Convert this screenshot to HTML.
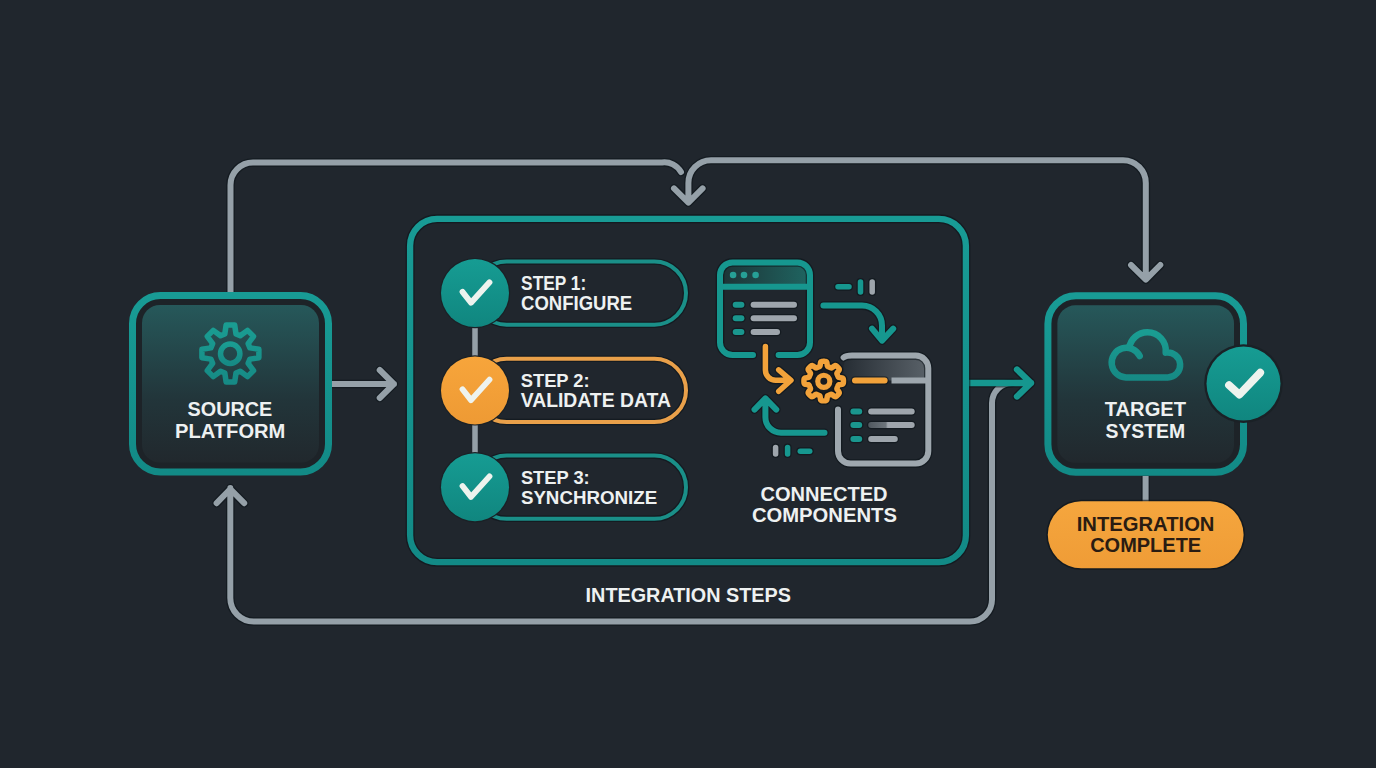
<!DOCTYPE html>
<html><head><meta charset="utf-8"><title>Integration Flow</title>
<style>html,body{margin:0;padding:0;background:#20262d;width:1376px;height:768px;overflow:hidden;font-family:"Liberation Sans",sans-serif}svg{display:block}</style>
</head><body>
<svg width="1376" height="768" viewBox="0 0 1376 768" font-family="Liberation Sans, sans-serif" font-weight="700"><defs>
<linearGradient id="boxfill" x1="0" y1="0" x2="0" y2="1">
<stop offset="0" stop-color="#26585a"/><stop offset="0.6" stop-color="#22353a"/><stop offset="1" stop-color="#21282d"/></linearGradient>
<linearGradient id="boxborder" x1="0" y1="0" x2="0" y2="1">
<stop offset="0" stop-color="#189b95"/><stop offset="1" stop-color="#128a86"/></linearGradient>
<linearGradient id="tealcirc" x1="0" y1="0" x2="0" y2="1">
<stop offset="0" stop-color="#169c93"/><stop offset="1" stop-color="#10867f"/></linearGradient>
<linearGradient id="orcirc" x1="0" y1="0" x2="0" y2="1">
<stop offset="0" stop-color="#f7a53b"/><stop offset="1" stop-color="#ee9a34"/></linearGradient>
<linearGradient id="pill" x1="0" y1="0" x2="0" y2="1">
<stop offset="0" stop-color="#f5a63e"/><stop offset="1" stop-color="#ef9c36"/></linearGradient>
<linearGradient id="hdr1" x1="0" y1="0" x2="1" y2="0">
<stop offset="0" stop-color="#1d3336"/><stop offset="1" stop-color="#1f6561"/></linearGradient>
<linearGradient id="hdr2" x1="0" y1="0" x2="1" y2="0">
<stop offset="0" stop-color="#262d34"/><stop offset="1" stop-color="#5a6269"/></linearGradient>
<linearGradient id="geargrad" x1="0" y1="0" x2="0" y2="1">
<stop offset="0" stop-color="#1a9d92"/><stop offset="1" stop-color="#168a85"/></linearGradient>
<linearGradient id="rowgrad" gradientUnits="userSpaceOnUse" x1="868" y1="0" x2="915" y2="0">
<stop offset="0" stop-color="#4f575e"/><stop offset="0.38" stop-color="#6d757c"/><stop offset="0.42" stop-color="#9ea5ac"/><stop offset="1" stop-color="#9ea5ac"/></linearGradient>
</defs>
<rect width="1376" height="768" fill="#20262d"/>
<path d="M230.5,292 V185 A22.5,22.5 0 0 1 253,162.5 H662 A19,19 0 0 1 681,172" fill="none" stroke="#0b1318" stroke-opacity="0.55" stroke-width="8.6" stroke-linecap="round" stroke-linejoin="round"/>
<path d="M230.5,292 V185 A22.5,22.5 0 0 1 253,162.5 H662 A19,19 0 0 1 681,172" fill="none" stroke="#95a0a8" stroke-width="6" stroke-linecap="round" stroke-linejoin="round" />
<path d="M1145.8,279 V183 A22.7,22.7 0 0 0 1123.1,160.3 H711 A22.6,22.6 0 0 0 688.4,182.9 V202 M674,188.4 L688.4,202.6 L702.6,188.4 M1131,265 L1145.8,279.6 L1160.3,265" fill="none" stroke="#0b1318" stroke-opacity="0.55" stroke-width="8.6" stroke-linecap="round" stroke-linejoin="round"/>
<path d="M1145.8,279 V183 A22.7,22.7 0 0 0 1123.1,160.3 H711 A22.6,22.6 0 0 0 688.4,182.9 V202 M674,188.4 L688.4,202.6 L702.6,188.4 M1131,265 L1145.8,279.6 L1160.3,265" fill="none" stroke="#95a0a8" stroke-width="6" stroke-linecap="round" stroke-linejoin="round" />
<path d="M230.3,488 V598 A23.5,23.5 0 0 0 253.8,621.5 H970 A22,22 0 0 0 992,599.5 V403 A20,20 0 0 1 1012,383 M216.6,503.2 L230.3,489 L244.2,503.2" fill="none" stroke="#0b1318" stroke-opacity="0.55" stroke-width="8.6" stroke-linecap="round" stroke-linejoin="round"/>
<path d="M230.3,488 V598 A23.5,23.5 0 0 0 253.8,621.5 H970 A22,22 0 0 0 992,599.5 V403 A20,20 0 0 1 1012,383 M216.6,503.2 L230.3,489 L244.2,503.2" fill="none" stroke="#95a0a8" stroke-width="6" stroke-linecap="round" stroke-linejoin="round" />
<path d="M332,384 H394 M379.7,370 L393.8,384 L379.7,398" fill="none" stroke="#0b1318" stroke-opacity="0.55" stroke-width="8.6" stroke-linecap="round" stroke-linejoin="round"/>
<path d="M332,384 H394 M379.7,370 L393.8,384 L379.7,398" fill="none" stroke="#95a0a8" stroke-width="6" stroke-linecap="round" stroke-linejoin="round" />
<path d="M1145.6,476 V502" fill="none" stroke="#0b1318" stroke-opacity="0.55" stroke-width="8.6" stroke-linecap="butt" stroke-linejoin="round"/>
<path d="M1145.6,476 V502" fill="none" stroke="#95a0a8" stroke-width="6" stroke-linecap="butt" stroke-linejoin="round" />
<path d="M969,383 H1031 M1017,369.5 L1031,383 L1017,396.5" fill="none" stroke="#0b1318" stroke-opacity="0.55" stroke-width="8.9" stroke-linecap="round" stroke-linejoin="round"/>
<path d="M969,383 H1031 M1017,369.5 L1031,383 L1017,396.5" fill="none" stroke="#16978f" stroke-width="6.3" stroke-linecap="round" stroke-linejoin="round" />
<rect x="132.5" y="295.5" width="196" height="176.5" rx="28" fill="#1d2328" stroke="url(#boxborder)" stroke-width="7"/><rect x="142" y="305" width="177" height="157.5" rx="18" fill="url(#boxfill)"/>
<rect x="1047.9" y="295.8" width="195.5999999999999" height="176.5" rx="28" fill="#1d2328" stroke="url(#boxborder)" stroke-width="7"/><rect x="1057.4" y="305.3" width="176.5999999999999" height="157.5" rx="18" fill="url(#boxfill)"/>
<path d="M224.80,333.99 L226.14,325.02 L234.66,325.02 L236.00,333.99 L240.24,335.75 L247.53,330.35 L253.55,336.37 L248.15,343.66 L249.91,347.90 L258.88,349.24 L258.88,357.76 L249.91,359.10 L248.15,363.34 L253.55,370.63 L247.53,376.65 L240.24,371.25 L236.00,373.01 L234.66,381.98 L226.14,381.98 L224.80,373.01 L220.56,371.25 L213.27,376.65 L207.25,370.63 L212.65,363.34 L210.89,359.10 L201.92,357.76 L201.92,349.24 L210.89,347.90 L212.65,343.66 L207.25,336.37 L213.27,330.35 L220.56,335.75Z" fill="none" stroke="url(#geargrad)" stroke-width="5.5" stroke-linejoin="round"/>
<circle cx="230.2" cy="353.7" r="9.7" fill="none" stroke="url(#geargrad)" stroke-width="5.5"/>
<text x="187.6" y="416.4" font-size="20.35" textLength="84.7" lengthAdjust="spacingAndGlyphs" fill="#eef1f1">SOURCE</text>
<text x="175.0" y="438.2" font-size="20.35" textLength="110.4" lengthAdjust="spacingAndGlyphs" fill="#eef1f1">PLATFORM</text>
<path d="M1139.7,356 A14.8,14.8 0 1 0 1126,377.4 L1167.7,377.4 A12.45,12.45 0 1 0 1165.7,352.66 A18.4,18.4 0 0 0 1147.4,332.3 A18.4,18.4 0 0 0 1129.18,348.15" fill="none" stroke="url(#geargrad)" stroke-width="6.5" stroke-linecap="round" stroke-linejoin="round"/>
<text x="1104.8" y="416.4" font-size="20.49" textLength="81.2" lengthAdjust="spacingAndGlyphs" fill="#eef1f1">TARGET</text>
<text x="1105.5" y="437.9" font-size="20.06" textLength="79.7" lengthAdjust="spacingAndGlyphs" fill="#eef1f1">SYSTEM</text>
<circle cx="1243.5" cy="383.6" r="39.3" fill="#1a2126"/>
<circle cx="1243.5" cy="383.6" r="37" fill="url(#tealcirc)"/>
<path d="M1229,385.2 L1239.4,394.6 L1260.2,372.7" fill="none" stroke="#eef3ee" stroke-width="7.8" stroke-linecap="round" stroke-linejoin="round"/>
<rect x="1046.3" y="499.7" width="198.8" height="70.1" rx="35" fill="#0b1318" fill-opacity="0.6"/>
<rect x="1047.8" y="501.2" width="195.8" height="67.1" rx="33.5" fill="url(#pill)"/>
<text x="1076.7" y="531.1" font-size="19.62" textLength="137.8" lengthAdjust="spacingAndGlyphs" fill="#2a1c12">INTEGRATION</text>
<text x="1090.2" y="552.3" font-size="19.33" textLength="111.0" lengthAdjust="spacingAndGlyphs" fill="#2a1c12">COMPLETE</text>
<rect x="410.1" y="218.8" width="555.8" height="343.4" rx="27" fill="none" stroke="#0b1318" stroke-opacity="0.55" stroke-width="9"/>
<rect x="410.1" y="218.8" width="555.8" height="343.4" rx="27" fill="none" stroke="url(#boxborder)" stroke-width="6.3"/>
<text x="585.6" y="601.7" font-size="19.91" textLength="205.4" lengthAdjust="spacingAndGlyphs" fill="#eef1f1">INTEGRATION STEPS</text>
<path d="M475,327 V356 M475,424 V453" stroke="#95a0a8" stroke-width="5.5"/>
<rect x="475" y="261.5" width="211" height="63.2" rx="31.6" fill="none" stroke="#0b1318" stroke-opacity="0.55" stroke-width="6.6"/>
<rect x="475" y="261.5" width="211" height="63.2" rx="31.6" fill="none" stroke="#1a8f88" stroke-width="4"/>
<circle cx="475" cy="293.1" r="35.2" fill="#1a2126"/>
<circle cx="475" cy="293.1" r="34" fill="url(#tealcirc)"/>
<path d="M462.5,291.90000000000003 L471,302.8 L489.5,282.3" fill="none" stroke="#eef3ee" stroke-width="5.8" stroke-linecap="round" stroke-linejoin="round"/>
<rect x="475" y="358.79999999999995" width="211" height="63.2" rx="31.6" fill="none" stroke="#0b1318" stroke-opacity="0.55" stroke-width="6.6"/>
<rect x="475" y="358.79999999999995" width="211" height="63.2" rx="31.6" fill="none" stroke="#e9a04a" stroke-width="4"/>
<circle cx="475" cy="390.4" r="35.2" fill="#1a2126"/>
<circle cx="475" cy="390.4" r="34" fill="url(#orcirc)"/>
<path d="M462.5,389.2 L471,400.09999999999997 L489.5,379.59999999999997" fill="none" stroke="#eef3ee" stroke-width="5.8" stroke-linecap="round" stroke-linejoin="round"/>
<rect x="475" y="455.59999999999997" width="211" height="63.2" rx="31.6" fill="none" stroke="#0b1318" stroke-opacity="0.55" stroke-width="6.6"/>
<rect x="475" y="455.59999999999997" width="211" height="63.2" rx="31.6" fill="none" stroke="#1a8f88" stroke-width="4"/>
<circle cx="475" cy="487.2" r="35.2" fill="#1a2126"/>
<circle cx="475" cy="487.2" r="34" fill="url(#tealcirc)"/>
<path d="M462.5,486.0 L471,496.9 L489.5,476.4" fill="none" stroke="#eef3ee" stroke-width="5.8" stroke-linecap="round" stroke-linejoin="round"/>
<text x="521.1" y="290.0" font-size="19.48" textLength="65.1" lengthAdjust="spacingAndGlyphs" fill="#eef1f1">STEP 1:</text>
<text x="521.1" y="309.8" font-size="19.48" textLength="111.1" lengthAdjust="spacingAndGlyphs" fill="#eef1f1">CONFIGURE</text>
<text x="520.7" y="386.8" font-size="19.04" textLength="69.0" lengthAdjust="spacingAndGlyphs" fill="#eef1f1">STEP 2:</text>
<text x="520.7" y="406.5" font-size="20.06" textLength="150.2" lengthAdjust="spacingAndGlyphs" fill="#eef1f1">VALIDATE DATA</text>
<text x="520.9" y="484.2" font-size="19.04" textLength="68.8" lengthAdjust="spacingAndGlyphs" fill="#eef1f1">STEP 3:</text>
<text x="520.9" y="503.8" font-size="18.90" textLength="136.3" lengthAdjust="spacingAndGlyphs" fill="#eef1f1">SYNCHRONIZE</text>
<path d="M720,283.5 V272 A12.6,12.6 0 0 1 732.6,262.4 H797.4 A12.6,12.6 0 0 1 810,275 V286.7 H720Z" fill="url(#hdr1)"/>
<path d="M753,355 H732.6 A12.6,12.6 0 0 1 720,342.4 V275 A12.6,12.6 0 0 1 732.6,262.4 H797.4 A12.6,12.6 0 0 1 810,275 V342.4 A12.6,12.6 0 0 1 797.4,355 H778.6" fill="none" stroke="#0b1318" stroke-opacity="0.55" stroke-width="8.6" stroke-linecap="round" stroke-linejoin="round"/>
<path d="M753,355 H732.6 A12.6,12.6 0 0 1 720,342.4 V275 A12.6,12.6 0 0 1 732.6,262.4 H797.4 A12.6,12.6 0 0 1 810,275 V342.4 A12.6,12.6 0 0 1 797.4,355 H778.6" fill="none" stroke="#16978f" stroke-width="6" stroke-linecap="round" stroke-linejoin="round" />
<path d="M720,286.7 H810" stroke="#16978f" stroke-width="6"/>
<circle cx="733.1" cy="275" r="3.3" fill="#26a096"/>
<circle cx="744" cy="275" r="3.3" fill="#26a096"/>
<circle cx="755.6" cy="275" r="3.3" fill="#26a096"/>
<path d="M735.7,304.7 H741.4" fill="none" stroke="#0b1318" stroke-opacity="0.55" stroke-width="8.6" stroke-linecap="round" stroke-linejoin="round"/>
<path d="M735.7,304.7 H741.4" fill="none" stroke="#1a968e" stroke-width="6" stroke-linecap="round" stroke-linejoin="round" />
<path d="M753.6,304.7 H794" fill="none" stroke="#0b1318" stroke-opacity="0.55" stroke-width="8.6" stroke-linecap="round" stroke-linejoin="round"/>
<path d="M753.6,304.7 H794" fill="none" stroke="#9ea5ac" stroke-width="6" stroke-linecap="round" stroke-linejoin="round" />
<path d="M735.7,318.3 H741.4" fill="none" stroke="#0b1318" stroke-opacity="0.55" stroke-width="8.6" stroke-linecap="round" stroke-linejoin="round"/>
<path d="M735.7,318.3 H741.4" fill="none" stroke="#1a968e" stroke-width="6" stroke-linecap="round" stroke-linejoin="round" />
<path d="M753.6,318.3 H794" fill="none" stroke="#0b1318" stroke-opacity="0.55" stroke-width="8.6" stroke-linecap="round" stroke-linejoin="round"/>
<path d="M753.6,318.3 H794" fill="none" stroke="#9ea5ac" stroke-width="6" stroke-linecap="round" stroke-linejoin="round" />
<path d="M735.7,332 H741.4" fill="none" stroke="#0b1318" stroke-opacity="0.55" stroke-width="8.6" stroke-linecap="round" stroke-linejoin="round"/>
<path d="M735.7,332 H741.4" fill="none" stroke="#1a968e" stroke-width="6" stroke-linecap="round" stroke-linejoin="round" />
<path d="M753.6,332 H777" fill="none" stroke="#0b1318" stroke-opacity="0.55" stroke-width="8.6" stroke-linecap="round" stroke-linejoin="round"/>
<path d="M753.6,332 H777" fill="none" stroke="#9ea5ac" stroke-width="6" stroke-linecap="round" stroke-linejoin="round" />
<path d="M838,286.7 H849" fill="none" stroke="#0b1318" stroke-opacity="0.55" stroke-width="8.1" stroke-linecap="round" stroke-linejoin="round"/>
<path d="M838,286.7 H849" fill="none" stroke="#16978f" stroke-width="5.5" stroke-linecap="round" stroke-linejoin="round" />
<path d="M860.5,282 V292" fill="none" stroke="#0b1318" stroke-opacity="0.55" stroke-width="8.1" stroke-linecap="round" stroke-linejoin="round"/>
<path d="M860.5,282 V292" fill="none" stroke="#16978f" stroke-width="5.5" stroke-linecap="round" stroke-linejoin="round" />
<path d="M872.2,282 V292" fill="none" stroke="#0b1318" stroke-opacity="0.55" stroke-width="8.1" stroke-linecap="round" stroke-linejoin="round"/>
<path d="M872.2,282 V292" fill="none" stroke="#9ea5ac" stroke-width="5.5" stroke-linecap="round" stroke-linejoin="round" />
<path d="M823.4,305.6 H862 A20,20 0 0 1 882,325.6 V340 M872,328.6 L882,340.6 L893.2,328.6" fill="none" stroke="#0b1318" stroke-opacity="0.55" stroke-width="8.6" stroke-linecap="round" stroke-linejoin="round"/>
<path d="M823.4,305.6 H862 A20,20 0 0 1 882,325.6 V340 M872,328.6 L882,340.6 L893.2,328.6" fill="none" stroke="#16978f" stroke-width="6" stroke-linecap="round" stroke-linejoin="round" />
<path d="M843.5,380.5 V366 A12.6,12.6 0 0 1 852,355.6 H915.7 A12.6,12.6 0 0 1 928.3,368.2 V380.5Z" fill="url(#hdr2)"/>
<path d="M843.6,357.5 Q846,355.6 852,355.6 H915.7 A12.6,12.6 0 0 1 928.3,368.2 V451 A12.6,12.6 0 0 1 915.7,463.6 H850.6 A12.6,12.6 0 0 1 838,451 V409.4" fill="none" stroke="#0b1318" stroke-opacity="0.55" stroke-width="8.6" stroke-linecap="round" stroke-linejoin="round"/>
<path d="M843.6,357.5 Q846,355.6 852,355.6 H915.7 A12.6,12.6 0 0 1 928.3,368.2 V451 A12.6,12.6 0 0 1 915.7,463.6 H850.6 A12.6,12.6 0 0 1 838,451 V409.4" fill="none" stroke="#9ea7ae" stroke-width="6" stroke-linecap="round" stroke-linejoin="round" />
<path d="M891.5,380.5 H928" stroke="#9ea7ae" stroke-width="6"/>
<path d="M855,380.5 H884.6" fill="none" stroke="#0b1318" stroke-opacity="0.55" stroke-width="8.6" stroke-linecap="round" stroke-linejoin="round"/>
<path d="M855,380.5 H884.6" fill="none" stroke="#f2a23a" stroke-width="6" stroke-linecap="round" stroke-linejoin="round" />
<path d="M853.4,411.5 H859.2" fill="none" stroke="#0b1318" stroke-opacity="0.55" stroke-width="8.6" stroke-linecap="round" stroke-linejoin="round"/>
<path d="M853.4,411.5 H859.2" fill="none" stroke="#1a968e" stroke-width="6" stroke-linecap="round" stroke-linejoin="round" />
<path d="M871.2,411.5 H911.7" fill="none" stroke="#0b1318" stroke-opacity="0.55" stroke-width="8.6" stroke-linecap="round" stroke-linejoin="round"/>
<path d="M871.2,411.5 H911.7" fill="none" stroke="#9ea5ac" stroke-width="6" stroke-linecap="round" stroke-linejoin="round" />
<path d="M853.4,425 H859.2" fill="none" stroke="#0b1318" stroke-opacity="0.55" stroke-width="8.6" stroke-linecap="round" stroke-linejoin="round"/>
<path d="M853.4,425 H859.2" fill="none" stroke="#1a968e" stroke-width="6" stroke-linecap="round" stroke-linejoin="round" />
<path d="M871.2,425 H911.7" fill="none" stroke="#0b1318" stroke-opacity="0.55" stroke-width="8.6" stroke-linecap="round" stroke-linejoin="round"/>
<path d="M871.2,425 H911.7" fill="none" stroke="url(#rowgrad)" stroke-width="6" stroke-linecap="round" stroke-linejoin="round" />
<path d="M853.4,439 H859.2" fill="none" stroke="#0b1318" stroke-opacity="0.55" stroke-width="8.6" stroke-linecap="round" stroke-linejoin="round"/>
<path d="M853.4,439 H859.2" fill="none" stroke="#1a968e" stroke-width="6" stroke-linecap="round" stroke-linejoin="round" />
<path d="M871.2,439 H894.8" fill="none" stroke="#0b1318" stroke-opacity="0.55" stroke-width="8.6" stroke-linecap="round" stroke-linejoin="round"/>
<path d="M871.2,439 H894.8" fill="none" stroke="#9ea5ac" stroke-width="6" stroke-linecap="round" stroke-linejoin="round" />
<path d="M765.4,346.5 V370 A10.3,10.3 0 0 0 775.7,380.3 H790 M778.7,369.9 L791,380.3 L778.7,391.3" fill="none" stroke="#0b1318" stroke-opacity="0.55" stroke-width="8.1" stroke-linecap="round" stroke-linejoin="round"/>
<path d="M765.4,346.5 V370 A10.3,10.3 0 0 0 775.7,380.3 H790 M778.7,369.9 L791,380.3 L778.7,391.3" fill="none" stroke="#f2a23a" stroke-width="5.5" stroke-linecap="round" stroke-linejoin="round" />
<path d="M823.70,361.30 L824.09,361.30 L824.48,361.32 L824.87,361.34 L825.25,361.38 L825.64,361.44 L826.02,361.54 L826.38,361.73 L826.71,362.11 L826.95,362.87 L827.09,364.03 L827.19,365.19 L827.34,365.95 L827.55,366.35 L827.80,366.57 L828.07,366.70 L828.34,366.82 L828.62,366.92 L828.89,367.02 L829.17,367.13 L829.44,367.24 L829.71,367.36 L829.98,367.48 L830.25,367.60 L830.52,367.72 L830.79,367.83 L831.08,367.92 L831.41,367.95 L831.84,367.82 L832.48,367.38 L833.37,366.63 L834.29,365.91 L835.00,365.55 L835.50,365.51 L835.90,365.63 L836.23,365.83 L836.55,366.06 L836.85,366.31 L837.14,366.56 L837.42,366.83 L837.70,367.10 L837.97,367.38 L838.24,367.66 L838.49,367.95 L838.74,368.25 L838.97,368.57 L839.17,368.90 L839.29,369.30 L839.25,369.80 L838.89,370.51 L838.17,371.43 L837.42,372.32 L836.98,372.96 L836.85,373.39 L836.88,373.72 L836.97,374.01 L837.08,374.28 L837.20,374.55 L837.32,374.82 L837.44,375.09 L837.56,375.36 L837.67,375.63 L837.78,375.91 L837.88,376.18 L837.98,376.46 L838.10,376.73 L838.23,377.00 L838.45,377.25 L838.85,377.46 L839.61,377.61 L840.77,377.71 L841.93,377.85 L842.69,378.09 L843.07,378.42 L843.26,378.78 L843.36,379.16 L843.42,379.55 L843.46,379.93 L843.48,380.32 L843.50,380.71 L843.50,381.10 L843.50,381.49 L843.48,381.88 L843.46,382.27 L843.42,382.65 L843.36,383.04 L843.26,383.42 L843.07,383.78 L842.69,384.11 L841.93,384.35 L840.77,384.49 L839.61,384.59 L838.85,384.74 L838.45,384.95 L838.23,385.20 L838.10,385.47 L837.98,385.74 L837.88,386.02 L837.78,386.29 L837.67,386.57 L837.56,386.84 L837.44,387.11 L837.32,387.38 L837.20,387.65 L837.08,387.92 L836.97,388.19 L836.88,388.48 L836.85,388.81 L836.98,389.24 L837.42,389.88 L838.17,390.77 L838.89,391.69 L839.25,392.40 L839.29,392.90 L839.17,393.30 L838.97,393.63 L838.74,393.95 L838.49,394.25 L838.24,394.54 L837.97,394.82 L837.70,395.10 L837.42,395.37 L837.14,395.64 L836.85,395.89 L836.55,396.14 L836.23,396.37 L835.90,396.57 L835.50,396.69 L835.00,396.65 L834.29,396.29 L833.37,395.57 L832.48,394.82 L831.84,394.38 L831.41,394.25 L831.08,394.28 L830.79,394.37 L830.52,394.48 L830.25,394.60 L829.98,394.72 L829.71,394.84 L829.44,394.96 L829.17,395.07 L828.89,395.18 L828.62,395.28 L828.34,395.38 L828.07,395.50 L827.80,395.63 L827.55,395.85 L827.34,396.25 L827.19,397.01 L827.09,398.17 L826.95,399.33 L826.71,400.09 L826.38,400.47 L826.02,400.66 L825.64,400.76 L825.25,400.82 L824.87,400.86 L824.48,400.88 L824.09,400.90 L823.70,400.90 L823.31,400.90 L822.92,400.88 L822.53,400.86 L822.15,400.82 L821.76,400.76 L821.38,400.66 L821.02,400.47 L820.69,400.09 L820.45,399.33 L820.31,398.17 L820.21,397.01 L820.06,396.25 L819.85,395.85 L819.60,395.63 L819.33,395.50 L819.06,395.38 L818.78,395.28 L818.51,395.18 L818.23,395.07 L817.96,394.96 L817.69,394.84 L817.42,394.72 L817.15,394.60 L816.88,394.48 L816.61,394.37 L816.32,394.28 L815.99,394.25 L815.56,394.38 L814.92,394.82 L814.03,395.57 L813.11,396.29 L812.40,396.65 L811.90,396.69 L811.50,396.57 L811.17,396.37 L810.85,396.14 L810.55,395.89 L810.26,395.64 L809.98,395.37 L809.70,395.10 L809.43,394.82 L809.16,394.54 L808.91,394.25 L808.66,393.95 L808.43,393.63 L808.23,393.30 L808.11,392.90 L808.15,392.40 L808.51,391.69 L809.23,390.77 L809.98,389.88 L810.42,389.24 L810.55,388.81 L810.52,388.48 L810.43,388.19 L810.32,387.92 L810.20,387.65 L810.08,387.38 L809.96,387.11 L809.84,386.84 L809.73,386.57 L809.62,386.29 L809.52,386.02 L809.42,385.74 L809.30,385.47 L809.17,385.20 L808.95,384.95 L808.55,384.74 L807.79,384.59 L806.63,384.49 L805.47,384.35 L804.71,384.11 L804.33,383.78 L804.14,383.42 L804.04,383.04 L803.98,382.65 L803.94,382.27 L803.92,381.88 L803.90,381.49 L803.90,381.10 L803.90,380.71 L803.92,380.32 L803.94,379.93 L803.98,379.55 L804.04,379.16 L804.14,378.78 L804.33,378.42 L804.71,378.09 L805.47,377.85 L806.63,377.71 L807.79,377.61 L808.55,377.46 L808.95,377.25 L809.17,377.00 L809.30,376.73 L809.42,376.46 L809.52,376.18 L809.62,375.91 L809.73,375.63 L809.84,375.36 L809.96,375.09 L810.08,374.82 L810.20,374.55 L810.32,374.28 L810.43,374.01 L810.52,373.72 L810.55,373.39 L810.42,372.96 L809.98,372.32 L809.23,371.43 L808.51,370.51 L808.15,369.80 L808.11,369.30 L808.23,368.90 L808.43,368.57 L808.66,368.25 L808.91,367.95 L809.16,367.66 L809.43,367.38 L809.70,367.10 L809.98,366.83 L810.26,366.56 L810.55,366.31 L810.85,366.06 L811.17,365.83 L811.50,365.63 L811.90,365.51 L812.40,365.55 L813.11,365.91 L814.03,366.63 L814.92,367.38 L815.56,367.82 L815.99,367.95 L816.32,367.92 L816.61,367.83 L816.88,367.72 L817.15,367.60 L817.42,367.48 L817.69,367.36 L817.96,367.24 L818.23,367.13 L818.51,367.02 L818.78,366.92 L819.06,366.82 L819.33,366.70 L819.60,366.57 L819.85,366.35 L820.06,365.95 L820.21,365.19 L820.31,364.03 L820.45,362.87 L820.69,362.11 L821.02,361.73 L821.38,361.54 L821.76,361.44 L822.15,361.38 L822.53,361.34 L822.92,361.32 L823.31,361.30Z" fill="#181c20" stroke="#0b1318" stroke-opacity="0.7" stroke-width="8" stroke-linejoin="round"/>
<path d="M823.70,361.30 L824.09,361.30 L824.48,361.32 L824.87,361.34 L825.25,361.38 L825.64,361.44 L826.02,361.54 L826.38,361.73 L826.71,362.11 L826.95,362.87 L827.09,364.03 L827.19,365.19 L827.34,365.95 L827.55,366.35 L827.80,366.57 L828.07,366.70 L828.34,366.82 L828.62,366.92 L828.89,367.02 L829.17,367.13 L829.44,367.24 L829.71,367.36 L829.98,367.48 L830.25,367.60 L830.52,367.72 L830.79,367.83 L831.08,367.92 L831.41,367.95 L831.84,367.82 L832.48,367.38 L833.37,366.63 L834.29,365.91 L835.00,365.55 L835.50,365.51 L835.90,365.63 L836.23,365.83 L836.55,366.06 L836.85,366.31 L837.14,366.56 L837.42,366.83 L837.70,367.10 L837.97,367.38 L838.24,367.66 L838.49,367.95 L838.74,368.25 L838.97,368.57 L839.17,368.90 L839.29,369.30 L839.25,369.80 L838.89,370.51 L838.17,371.43 L837.42,372.32 L836.98,372.96 L836.85,373.39 L836.88,373.72 L836.97,374.01 L837.08,374.28 L837.20,374.55 L837.32,374.82 L837.44,375.09 L837.56,375.36 L837.67,375.63 L837.78,375.91 L837.88,376.18 L837.98,376.46 L838.10,376.73 L838.23,377.00 L838.45,377.25 L838.85,377.46 L839.61,377.61 L840.77,377.71 L841.93,377.85 L842.69,378.09 L843.07,378.42 L843.26,378.78 L843.36,379.16 L843.42,379.55 L843.46,379.93 L843.48,380.32 L843.50,380.71 L843.50,381.10 L843.50,381.49 L843.48,381.88 L843.46,382.27 L843.42,382.65 L843.36,383.04 L843.26,383.42 L843.07,383.78 L842.69,384.11 L841.93,384.35 L840.77,384.49 L839.61,384.59 L838.85,384.74 L838.45,384.95 L838.23,385.20 L838.10,385.47 L837.98,385.74 L837.88,386.02 L837.78,386.29 L837.67,386.57 L837.56,386.84 L837.44,387.11 L837.32,387.38 L837.20,387.65 L837.08,387.92 L836.97,388.19 L836.88,388.48 L836.85,388.81 L836.98,389.24 L837.42,389.88 L838.17,390.77 L838.89,391.69 L839.25,392.40 L839.29,392.90 L839.17,393.30 L838.97,393.63 L838.74,393.95 L838.49,394.25 L838.24,394.54 L837.97,394.82 L837.70,395.10 L837.42,395.37 L837.14,395.64 L836.85,395.89 L836.55,396.14 L836.23,396.37 L835.90,396.57 L835.50,396.69 L835.00,396.65 L834.29,396.29 L833.37,395.57 L832.48,394.82 L831.84,394.38 L831.41,394.25 L831.08,394.28 L830.79,394.37 L830.52,394.48 L830.25,394.60 L829.98,394.72 L829.71,394.84 L829.44,394.96 L829.17,395.07 L828.89,395.18 L828.62,395.28 L828.34,395.38 L828.07,395.50 L827.80,395.63 L827.55,395.85 L827.34,396.25 L827.19,397.01 L827.09,398.17 L826.95,399.33 L826.71,400.09 L826.38,400.47 L826.02,400.66 L825.64,400.76 L825.25,400.82 L824.87,400.86 L824.48,400.88 L824.09,400.90 L823.70,400.90 L823.31,400.90 L822.92,400.88 L822.53,400.86 L822.15,400.82 L821.76,400.76 L821.38,400.66 L821.02,400.47 L820.69,400.09 L820.45,399.33 L820.31,398.17 L820.21,397.01 L820.06,396.25 L819.85,395.85 L819.60,395.63 L819.33,395.50 L819.06,395.38 L818.78,395.28 L818.51,395.18 L818.23,395.07 L817.96,394.96 L817.69,394.84 L817.42,394.72 L817.15,394.60 L816.88,394.48 L816.61,394.37 L816.32,394.28 L815.99,394.25 L815.56,394.38 L814.92,394.82 L814.03,395.57 L813.11,396.29 L812.40,396.65 L811.90,396.69 L811.50,396.57 L811.17,396.37 L810.85,396.14 L810.55,395.89 L810.26,395.64 L809.98,395.37 L809.70,395.10 L809.43,394.82 L809.16,394.54 L808.91,394.25 L808.66,393.95 L808.43,393.63 L808.23,393.30 L808.11,392.90 L808.15,392.40 L808.51,391.69 L809.23,390.77 L809.98,389.88 L810.42,389.24 L810.55,388.81 L810.52,388.48 L810.43,388.19 L810.32,387.92 L810.20,387.65 L810.08,387.38 L809.96,387.11 L809.84,386.84 L809.73,386.57 L809.62,386.29 L809.52,386.02 L809.42,385.74 L809.30,385.47 L809.17,385.20 L808.95,384.95 L808.55,384.74 L807.79,384.59 L806.63,384.49 L805.47,384.35 L804.71,384.11 L804.33,383.78 L804.14,383.42 L804.04,383.04 L803.98,382.65 L803.94,382.27 L803.92,381.88 L803.90,381.49 L803.90,381.10 L803.90,380.71 L803.92,380.32 L803.94,379.93 L803.98,379.55 L804.04,379.16 L804.14,378.78 L804.33,378.42 L804.71,378.09 L805.47,377.85 L806.63,377.71 L807.79,377.61 L808.55,377.46 L808.95,377.25 L809.17,377.00 L809.30,376.73 L809.42,376.46 L809.52,376.18 L809.62,375.91 L809.73,375.63 L809.84,375.36 L809.96,375.09 L810.08,374.82 L810.20,374.55 L810.32,374.28 L810.43,374.01 L810.52,373.72 L810.55,373.39 L810.42,372.96 L809.98,372.32 L809.23,371.43 L808.51,370.51 L808.15,369.80 L808.11,369.30 L808.23,368.90 L808.43,368.57 L808.66,368.25 L808.91,367.95 L809.16,367.66 L809.43,367.38 L809.70,367.10 L809.98,366.83 L810.26,366.56 L810.55,366.31 L810.85,366.06 L811.17,365.83 L811.50,365.63 L811.90,365.51 L812.40,365.55 L813.11,365.91 L814.03,366.63 L814.92,367.38 L815.56,367.82 L815.99,367.95 L816.32,367.92 L816.61,367.83 L816.88,367.72 L817.15,367.60 L817.42,367.48 L817.69,367.36 L817.96,367.24 L818.23,367.13 L818.51,367.02 L818.78,366.92 L819.06,366.82 L819.33,366.70 L819.60,366.57 L819.85,366.35 L820.06,365.95 L820.21,365.19 L820.31,364.03 L820.45,362.87 L820.69,362.11 L821.02,361.73 L821.38,361.54 L821.76,361.44 L822.15,361.38 L822.53,361.34 L822.92,361.32 L823.31,361.30Z" fill="none" stroke="#f2a23a" stroke-width="5.4" stroke-linejoin="round"/>
<circle cx="823.8" cy="381.3" r="6.05" fill="none" stroke="#f2a23a" stroke-width="5.2"/>
<path d="M824.5,432.8 H781 A15.6,15.6 0 0 1 765.4,417.2 V399 M754.5,409.6 L765.4,398.4 L776.3,409.6" fill="none" stroke="#0b1318" stroke-opacity="0.55" stroke-width="8.6" stroke-linecap="round" stroke-linejoin="round"/>
<path d="M824.5,432.8 H781 A15.6,15.6 0 0 1 765.4,417.2 V399 M754.5,409.6 L765.4,398.4 L776.3,409.6" fill="none" stroke="#16978f" stroke-width="6" stroke-linecap="round" stroke-linejoin="round" />
<path d="M775.6,447.5 V454" fill="none" stroke="#0b1318" stroke-opacity="0.55" stroke-width="8.1" stroke-linecap="round" stroke-linejoin="round"/>
<path d="M775.6,447.5 V454" fill="none" stroke="#9ea5ac" stroke-width="5.5" stroke-linecap="round" stroke-linejoin="round" />
<path d="M787.6,447.5 V454" fill="none" stroke="#0b1318" stroke-opacity="0.55" stroke-width="8.1" stroke-linecap="round" stroke-linejoin="round"/>
<path d="M787.6,447.5 V454" fill="none" stroke="#16978f" stroke-width="5.5" stroke-linecap="round" stroke-linejoin="round" />
<path d="M800.3,451.2 H809.7" fill="none" stroke="#0b1318" stroke-opacity="0.55" stroke-width="8.1" stroke-linecap="round" stroke-linejoin="round"/>
<path d="M800.3,451.2 H809.7" fill="none" stroke="#16978f" stroke-width="5.5" stroke-linecap="round" stroke-linejoin="round" />
<text x="760.5" y="501.0" font-size="19.77" textLength="127.1" lengthAdjust="spacingAndGlyphs" fill="#eef1f1">CONNECTED</text>
<text x="751.9" y="522.0" font-size="19.77" textLength="145.0" lengthAdjust="spacingAndGlyphs" fill="#eef1f1">COMPONENTS</text></svg>
</body></html>
